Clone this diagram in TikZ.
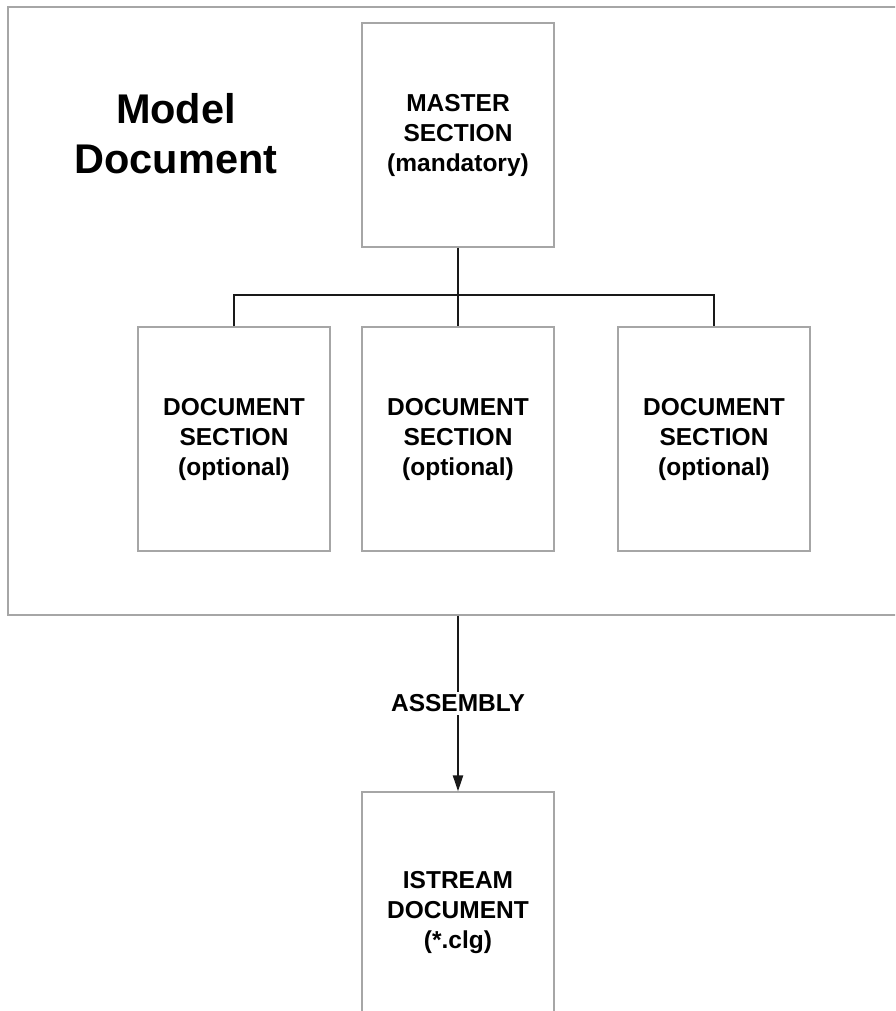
\documentclass[tikz,border=0pt]{standalone}
\usepackage{fontspec}
\setmainfont{Liberation Sans}
\usetikzlibrary{positioning, calc}
\usetikzlibrary{arrows.meta}

\begin{document}
\begin{tikzpicture}[x=1pt, y=-1pt,
        secbox/.style = {draw=gray!70, line width=1.2pt, minimum width=192pt, minimum height=224pt,
                         align=center, inner sep=0pt, font=\fontsize{24.5}{30}\selectfont\bfseries},
        frame/.style = {draw=gray!70, line width=1.2pt, inner sep=0pt},
        link/.style = {draw=black!90, line width=2pt},
        title/.style = {align=center, font=\fontsize{41.5}{50}\selectfont\bfseries}]
                \useasboundingbox (0,0) rectangle (895,1011);
                \clip (0,0) rectangle (895,1011);
                \node[frame, minimum width=900pt, minimum height=608pt] (model) at (458,311) {};
                \node[title] (modeltitle) at (176,134) {Model\\Document};
                \node[secbox] (master) at (458,135) {MASTER\\SECTION\\(mandatory)};
                \node[secbox] (sec1) at (234,439) {DOCUMENT\\SECTION\\(optional)};
                \node[secbox] (sec2) at (458,439) {DOCUMENT\\SECTION\\(optional)};
                \node[secbox] (sec3) at (714,439) {DOCUMENT\\SECTION\\(optional)};
                \node[secbox, minimum height=242pt] (istream) at (458,913) {ISTREAM\\DOCUMENT\\(*.clg)};
                \coordinate (bus) at (458,295);
                \draw[link] (master.south) -- (sec2.north);
                \draw[link] (sec1.north) |- (bus) -| (sec3.north);
                \draw[link, -{Triangle[length=16pt, width=10pt]}] (istream.north |- model.south) -- node[fill=white, inner sep=3pt, font=\fontsize{24.5}{30}\selectfont\bfseries] (assembly) {ASSEMBLY} (istream.north);
\end{tikzpicture}
\end{document}
